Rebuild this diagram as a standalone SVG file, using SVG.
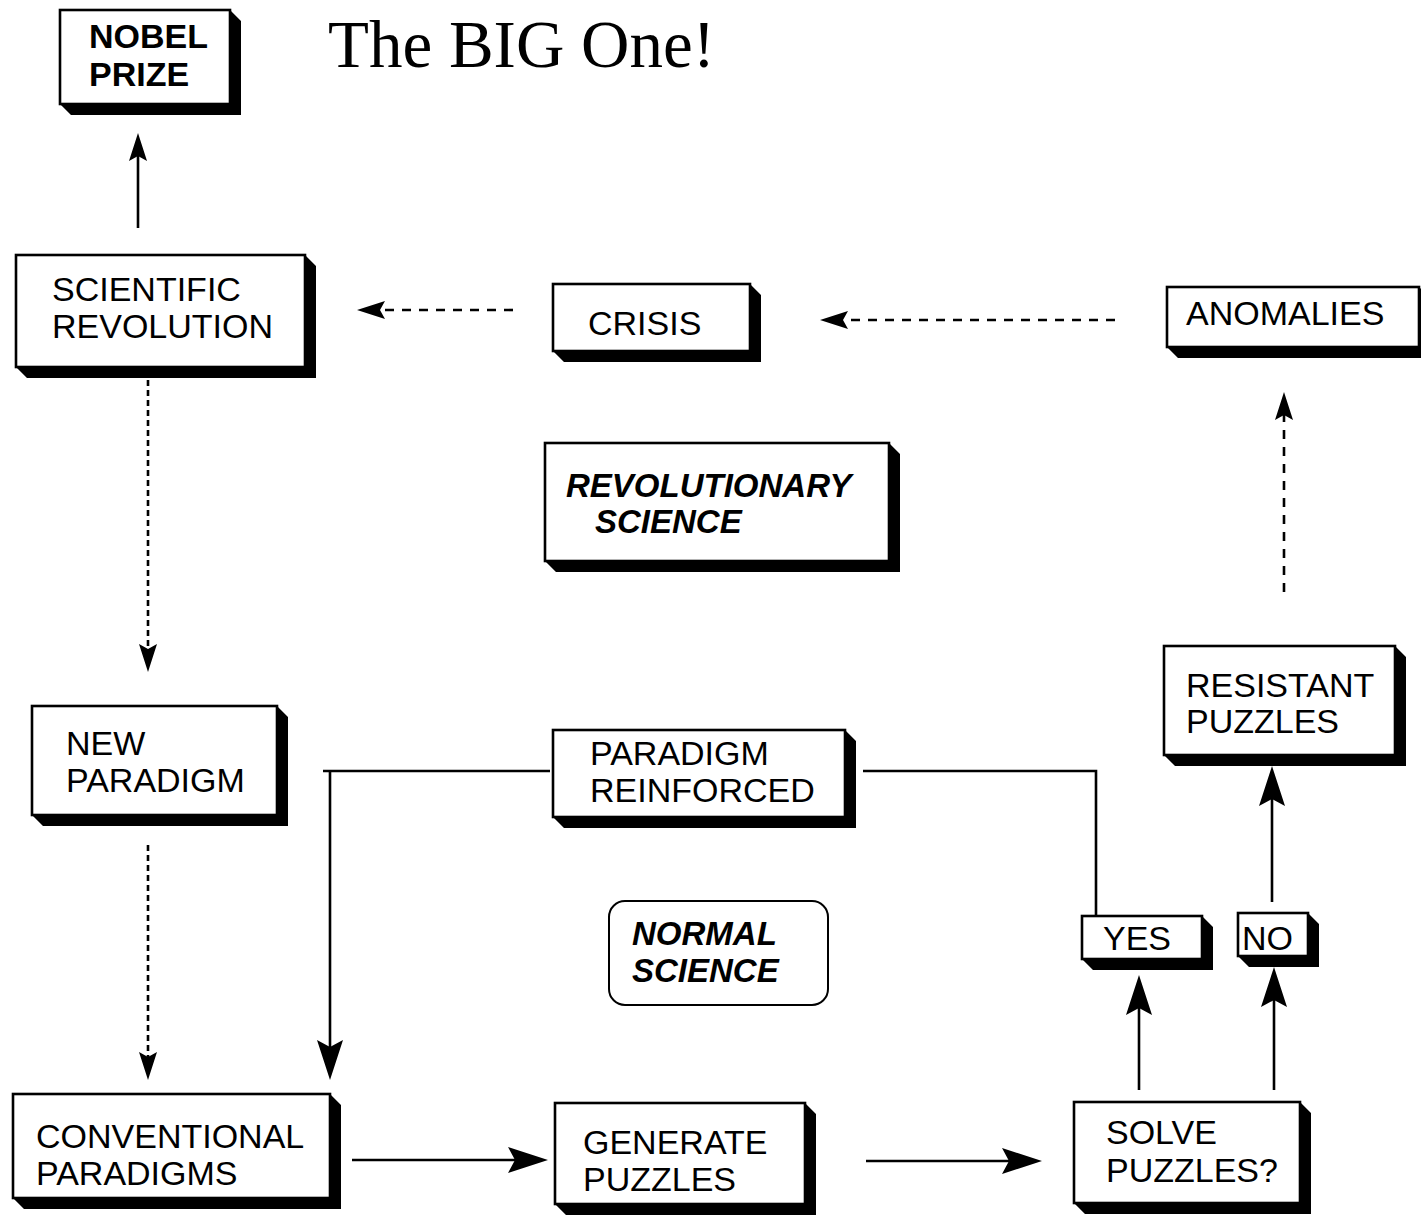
<svg xmlns="http://www.w3.org/2000/svg" width="1421" height="1217" viewBox="0 0 1421 1217">
<style>
.box{fill:#fff;stroke:#000;stroke-width:2.6}
.sh{fill:#000}
.t{font-family:"Liberation Sans",Arial,sans-serif;font-size:34px;fill:#000}
.b{font-weight:bold}
.bi{font-weight:bold;font-style:italic;font-size:33px}
.ln{fill:none;stroke:#000;stroke-width:2.6}
.dash{stroke-dasharray:9 8}
.dot{stroke-dasharray:6 4}
</style>
<defs>
<marker id="hs" markerUnits="userSpaceOnUse" viewBox="0 0 28 18" refX="5" refY="9" markerWidth="28" markerHeight="18" orient="auto">
<path d="M0,0 L28,9 L0,18 L5,9 Z" fill="#000"/>
</marker>
<marker id="hl" markerUnits="userSpaceOnUse" viewBox="0 0 40 26" refX="7" refY="13" markerWidth="40" markerHeight="26" orient="auto">
<path d="M0,0 L40,13 L0,26 L7,13 Z" fill="#000"/>
</marker>
</defs>
<rect width="1421" height="1217" fill="#fff"/>
<text x="328" y="67" font-family="'Liberation Serif','Times New Roman',serif" font-size="67">The BIG One!</text>

<g id="connectors">
<line class="ln" x1="138" y1="228" x2="138" y2="156" marker-end="url(#hs)"/>
<line class="ln dash" x1="513" y1="310" x2="380" y2="310" marker-end="url(#hs)"/>
<line class="ln dash" x1="1115" y1="320" x2="843" y2="320" marker-end="url(#hs)"/>
<line class="ln dash" x1="1284" y1="592" x2="1284" y2="415" marker-end="url(#hs)"/>
<line class="ln dot" x1="148" y1="380" x2="148" y2="649" marker-end="url(#hs)"/>
<line class="ln dot" x1="148" y1="845" x2="148" y2="1057" marker-end="url(#hs)"/>
<line class="ln" x1="323" y1="771" x2="550" y2="771"/>
<line class="ln" x1="330" y1="771" x2="330" y2="1047" marker-end="url(#hl)"/>
<polyline class="ln" points="863,771 1096,771 1096,915"/>
<line class="ln" x1="352" y1="1160" x2="515" y2="1160" marker-end="url(#hl)"/>
<line class="ln" x1="866" y1="1161" x2="1009" y2="1161" marker-end="url(#hl)"/>
<line class="ln" x1="1139" y1="1090" x2="1139" y2="1008" marker-end="url(#hl)"/>
<line class="ln" x1="1274" y1="1090" x2="1274" y2="1000" marker-end="url(#hl)"/>
<line class="ln" x1="1272" y1="902" x2="1272" y2="799" marker-end="url(#hl)"/>
</g>

<g id="nobel">
<polygon class="sh" points="230,10 241,21 241,115 71,115 60,104 230,104"/>
<rect class="box" x="60" y="10" width="170" height="94"/>
<text class="t b" font-size="33" x="89" y="48">NOBEL</text>
<text class="t b" font-size="33" x="89" y="86">PRIZE</text>
</g>

<g id="scirev">
<polygon class="sh" points="305,255 316,266 316,378 27,378 16,367 305,367"/>
<rect class="box" x="16" y="255" width="289" height="112"/>
<text class="t" x="52" y="301">SCIENTIFIC</text>
<text class="t" x="52" y="338">REVOLUTION</text>
</g>

<g id="crisis">
<polygon class="sh" points="750,284 761,295 761,362 564,362 553,351 750,351"/>
<rect class="box" x="553" y="284" width="197" height="67"/>
<text class="t" x="588" y="335">CRISIS</text>
</g>

<g id="anomalies">
<polygon class="sh" points="1419,287 1430,298 1430,358 1178,358 1167,347 1419,347"/>
<rect class="box" x="1167" y="287" width="252" height="60"/>
<text class="t" x="1186" y="325">ANOMALIES</text>
</g>

<g id="revsci">
<polygon class="sh" points="889,443 900,454 900,572 556,572 545,561 889,561"/>
<rect class="box" x="545" y="443" width="344" height="118"/>
<text class="t bi" x="566" y="497">REVOLUTIONARY</text>
<text class="t bi" x="595" y="533">SCIENCE</text>
</g>

<g id="newparadigm">
<polygon class="sh" points="277,706 288,717 288,826 43,826 32,815 277,815"/>
<rect class="box" x="32" y="706" width="245" height="109"/>
<text class="t" x="66" y="755">NEW</text>
<text class="t" x="66" y="792">PARADIGM</text>
</g>

<g id="reinforced">
<polygon class="sh" points="845,730 856,741 856,828 564,828 553,817 845,817"/>
<rect class="box" x="553" y="730" width="292" height="87"/>
<text class="t" x="590" y="765">PARADIGM</text>
<text class="t" x="590" y="802">REINFORCED</text>
</g>

<g id="resistant">
<polygon class="sh" points="1395,646 1406,657 1406,766 1175,766 1164,755 1395,755"/>
<rect class="box" x="1164" y="646" width="231" height="109"/>
<text class="t" x="1186" y="697">RESISTANT</text>
<text class="t" x="1186" y="733">PUZZLES</text>
</g>

<g id="yes">
<polygon class="sh" points="1202,916 1213,927 1213,970 1093,970 1082,959 1202,959"/>
<rect class="box" x="1082" y="916" width="120" height="43"/>
<text class="t" x="1103" y="950">YES</text>
</g>

<g id="no">
<polygon class="sh" points="1308,913 1319,924 1319,967 1249,967 1238,956 1308,956"/>
<rect class="box" x="1238" y="913" width="70" height="43"/>
<text class="t" x="1242" y="950">NO</text>
</g>

<g id="normal">
<rect x="609" y="901" width="219" height="104" rx="16" ry="16" fill="#fff" stroke="#000" stroke-width="2"/>
<text class="t bi" x="632" y="945">NORMAL</text>
<text class="t bi" x="632" y="982">SCIENCE</text>
</g>

<g id="conventional">
<polygon class="sh" points="330,1094 341,1105 341,1209 24,1209 13,1198 330,1198"/>
<rect class="box" x="13" y="1094" width="317" height="104"/>
<text class="t" x="36" y="1148">CONVENTIONAL</text>
<text class="t" x="36" y="1185">PARADIGMS</text>
</g>

<g id="generate">
<polygon class="sh" points="805,1103 816,1114 816,1215 566,1215 555,1204 805,1204"/>
<rect class="box" x="555" y="1103" width="250" height="101"/>
<text class="t" x="583" y="1154">GENERATE</text>
<text class="t" x="583" y="1191">PUZZLES</text>
</g>

<g id="solve">
<polygon class="sh" points="1300,1102 1311,1113 1311,1214 1085,1214 1074,1203 1300,1203"/>
<rect class="box" x="1074" y="1102" width="226" height="101"/>
<text class="t" x="1106" y="1144">SOLVE</text>
<text class="t" x="1106" y="1182">PUZZLES?</text>
</g>
</svg>
